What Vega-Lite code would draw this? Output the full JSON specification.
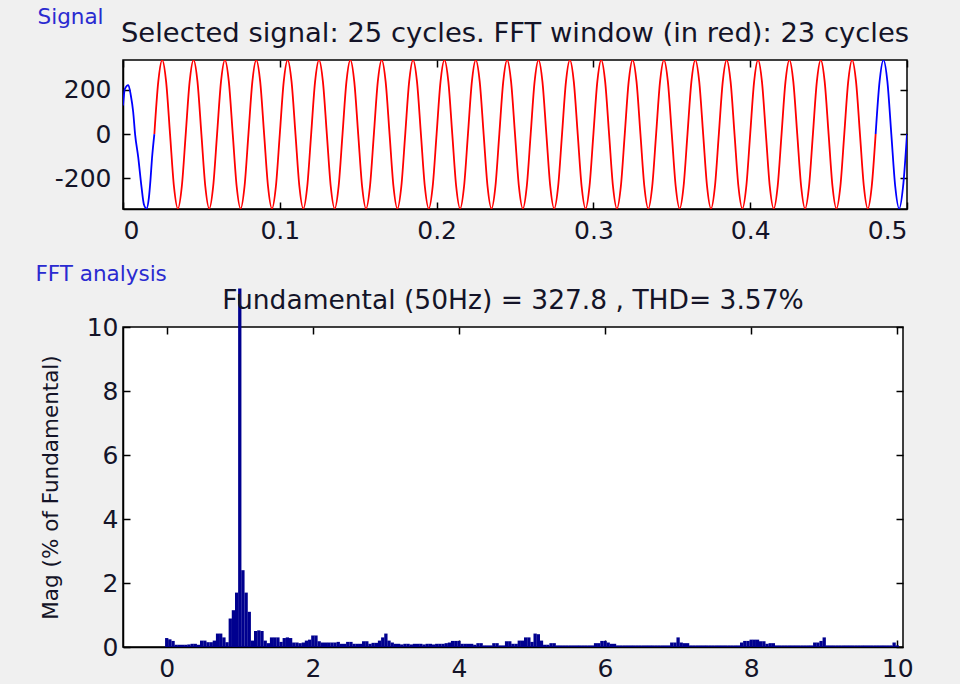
{
"$schema": "https://vega.github.io/schema/vega-lite/v6.json",
"background": "#f0f0f0",
"padding": {"top": 6, "left": 35, "right": 65, "bottom": 10},
"spacing": 19,
"config": {
  "font": "DejaVu Sans",
  "view": {"fill": "white", "stroke": "black", "strokeWidth": 1.5},
  "axis": {"domainColor": "black", "domainWidth": 1.5, "tickColor": "black", "tickWidth": 1.5, "tickSize": -7, "labelColor": "#141428", "labelFontSize": 25, "labelPadding": 10, "titleFontSize": 21.5, "titleFontWeight": "normal", "titleColor": "#141428", "grid": false},
  "title": {"fontWeight": "normal"}
},
"datasets": {
  "sig": [
    {"t":0,"v":130,"s":"a"},{"t":0.0012,"v":205,"s":"a"},{"t":0.0034,"v":222,"s":"a"},{"t":0.005,"v":175,"s":"a"},{"t":0.0065,"v":100,"s":"a"},{"t":0.0077,"v":0,"s":"a"},{"t":0.0097,"v":-105,"s":"a"},{"t":0.0118,"v":-240,"s":"a"},{"t":0.0133,"v":-318,"s":"a"},{"t":0.015,"v":-338,"s":"a"},{"t":0.0165,"v":-290,"s":"a"},{"t":0.0175,"v":-210,"s":"a"},{"t":0.0185,"v":-110,"s":"a"},{"t":0.02,"v":0,"s":"a"},
    {"t":0.02,"v":0,"s":"b"},{"t":0.0225,"v":238,"s":"b"},{"t":0.025,"v":336,"s":"b"},{"t":0.0275,"v":238,"s":"b"},{"t":0.03,"v":0,"s":"b"},{"t":0.0325,"v":-238,"s":"b"},{"t":0.035,"v":-338,"s":"b"},{"t":0.0375,"v":-238,"s":"b"},
    {"t":0.04,"v":0,"s":"b"},{"t":0.0425,"v":238,"s":"b"},{"t":0.045,"v":336,"s":"b"},{"t":0.0475,"v":238,"s":"b"},{"t":0.05,"v":0,"s":"b"},{"t":0.0525,"v":-238,"s":"b"},{"t":0.055,"v":-338,"s":"b"},{"t":0.0575,"v":-238,"s":"b"},
    {"t":0.06,"v":0,"s":"b"},{"t":0.0625,"v":238,"s":"b"},{"t":0.065,"v":336,"s":"b"},{"t":0.0675,"v":238,"s":"b"},{"t":0.07,"v":0,"s":"b"},{"t":0.0725,"v":-238,"s":"b"},{"t":0.075,"v":-338,"s":"b"},{"t":0.0775,"v":-238,"s":"b"},
    {"t":0.08,"v":0,"s":"b"},{"t":0.0825,"v":238,"s":"b"},{"t":0.085,"v":336,"s":"b"},{"t":0.0875,"v":238,"s":"b"},{"t":0.09,"v":0,"s":"b"},{"t":0.0925,"v":-238,"s":"b"},{"t":0.095,"v":-338,"s":"b"},{"t":0.0975,"v":-238,"s":"b"},
    {"t":0.1,"v":0,"s":"b"},{"t":0.1025,"v":238,"s":"b"},{"t":0.105,"v":336,"s":"b"},{"t":0.1075,"v":238,"s":"b"},{"t":0.11,"v":0,"s":"b"},{"t":0.1125,"v":-238,"s":"b"},{"t":0.115,"v":-338,"s":"b"},{"t":0.1175,"v":-238,"s":"b"},
    {"t":0.12,"v":0,"s":"b"},{"t":0.1225,"v":238,"s":"b"},{"t":0.125,"v":336,"s":"b"},{"t":0.1275,"v":238,"s":"b"},{"t":0.13,"v":0,"s":"b"},{"t":0.1325,"v":-238,"s":"b"},{"t":0.135,"v":-338,"s":"b"},{"t":0.1375,"v":-238,"s":"b"},
    {"t":0.14,"v":0,"s":"b"},{"t":0.1425,"v":238,"s":"b"},{"t":0.145,"v":336,"s":"b"},{"t":0.1475,"v":238,"s":"b"},{"t":0.15,"v":0,"s":"b"},{"t":0.1525,"v":-238,"s":"b"},{"t":0.155,"v":-338,"s":"b"},{"t":0.1575,"v":-238,"s":"b"},
    {"t":0.16,"v":0,"s":"b"},{"t":0.1625,"v":238,"s":"b"},{"t":0.165,"v":336,"s":"b"},{"t":0.1675,"v":238,"s":"b"},{"t":0.17,"v":0,"s":"b"},{"t":0.1725,"v":-238,"s":"b"},{"t":0.175,"v":-338,"s":"b"},{"t":0.1775,"v":-238,"s":"b"},
    {"t":0.18,"v":0,"s":"b"},{"t":0.1825,"v":238,"s":"b"},{"t":0.185,"v":336,"s":"b"},{"t":0.1875,"v":238,"s":"b"},{"t":0.19,"v":0,"s":"b"},{"t":0.1925,"v":-238,"s":"b"},{"t":0.195,"v":-338,"s":"b"},{"t":0.1975,"v":-238,"s":"b"},
    {"t":0.2,"v":0,"s":"b"},{"t":0.2025,"v":238,"s":"b"},{"t":0.205,"v":336,"s":"b"},{"t":0.2075,"v":238,"s":"b"},{"t":0.21,"v":0,"s":"b"},{"t":0.2125,"v":-238,"s":"b"},{"t":0.215,"v":-338,"s":"b"},{"t":0.2175,"v":-238,"s":"b"},
    {"t":0.22,"v":0,"s":"b"},{"t":0.2225,"v":238,"s":"b"},{"t":0.225,"v":336,"s":"b"},{"t":0.2275,"v":238,"s":"b"},{"t":0.23,"v":0,"s":"b"},{"t":0.2325,"v":-238,"s":"b"},{"t":0.235,"v":-338,"s":"b"},{"t":0.2375,"v":-238,"s":"b"},
    {"t":0.24,"v":0,"s":"b"},{"t":0.2425,"v":238,"s":"b"},{"t":0.245,"v":336,"s":"b"},{"t":0.2475,"v":238,"s":"b"},{"t":0.25,"v":0,"s":"b"},{"t":0.2525,"v":-238,"s":"b"},{"t":0.255,"v":-338,"s":"b"},{"t":0.2575,"v":-238,"s":"b"},
    {"t":0.26,"v":0,"s":"b"},{"t":0.2625,"v":238,"s":"b"},{"t":0.265,"v":336,"s":"b"},{"t":0.2675,"v":238,"s":"b"},{"t":0.27,"v":0,"s":"b"},{"t":0.2725,"v":-238,"s":"b"},{"t":0.275,"v":-338,"s":"b"},{"t":0.2775,"v":-238,"s":"b"},
    {"t":0.28,"v":0,"s":"b"},{"t":0.2825,"v":238,"s":"b"},{"t":0.285,"v":336,"s":"b"},{"t":0.2875,"v":238,"s":"b"},{"t":0.29,"v":0,"s":"b"},{"t":0.2925,"v":-238,"s":"b"},{"t":0.295,"v":-338,"s":"b"},{"t":0.2975,"v":-238,"s":"b"},
    {"t":0.3,"v":0,"s":"b"},{"t":0.3025,"v":238,"s":"b"},{"t":0.305,"v":336,"s":"b"},{"t":0.3075,"v":238,"s":"b"},{"t":0.31,"v":0,"s":"b"},{"t":0.3125,"v":-238,"s":"b"},{"t":0.315,"v":-338,"s":"b"},{"t":0.3175,"v":-238,"s":"b"},
    {"t":0.32,"v":0,"s":"b"},{"t":0.3225,"v":238,"s":"b"},{"t":0.325,"v":336,"s":"b"},{"t":0.3275,"v":238,"s":"b"},{"t":0.33,"v":0,"s":"b"},{"t":0.3325,"v":-238,"s":"b"},{"t":0.335,"v":-338,"s":"b"},{"t":0.3375,"v":-238,"s":"b"},
    {"t":0.34,"v":0,"s":"b"},{"t":0.3425,"v":238,"s":"b"},{"t":0.345,"v":336,"s":"b"},{"t":0.3475,"v":238,"s":"b"},{"t":0.35,"v":0,"s":"b"},{"t":0.3525,"v":-238,"s":"b"},{"t":0.355,"v":-338,"s":"b"},{"t":0.3575,"v":-238,"s":"b"},
    {"t":0.36,"v":0,"s":"b"},{"t":0.3625,"v":238,"s":"b"},{"t":0.365,"v":336,"s":"b"},{"t":0.3675,"v":238,"s":"b"},{"t":0.37,"v":0,"s":"b"},{"t":0.3725,"v":-238,"s":"b"},{"t":0.375,"v":-338,"s":"b"},{"t":0.3775,"v":-238,"s":"b"},
    {"t":0.38,"v":0,"s":"b"},{"t":0.3825,"v":238,"s":"b"},{"t":0.385,"v":336,"s":"b"},{"t":0.3875,"v":238,"s":"b"},{"t":0.39,"v":0,"s":"b"},{"t":0.3925,"v":-238,"s":"b"},{"t":0.395,"v":-338,"s":"b"},{"t":0.3975,"v":-238,"s":"b"},
    {"t":0.4,"v":0,"s":"b"},{"t":0.4025,"v":238,"s":"b"},{"t":0.405,"v":336,"s":"b"},{"t":0.4075,"v":238,"s":"b"},{"t":0.41,"v":0,"s":"b"},{"t":0.4125,"v":-238,"s":"b"},{"t":0.415,"v":-338,"s":"b"},{"t":0.4175,"v":-238,"s":"b"},
    {"t":0.42,"v":0,"s":"b"},{"t":0.4225,"v":238,"s":"b"},{"t":0.425,"v":336,"s":"b"},{"t":0.4275,"v":238,"s":"b"},{"t":0.43,"v":0,"s":"b"},{"t":0.4325,"v":-238,"s":"b"},{"t":0.435,"v":-338,"s":"b"},{"t":0.4375,"v":-238,"s":"b"},
    {"t":0.44,"v":0,"s":"b"},{"t":0.4425,"v":238,"s":"b"},{"t":0.445,"v":336,"s":"b"},{"t":0.4475,"v":238,"s":"b"},{"t":0.45,"v":0,"s":"b"},{"t":0.4525,"v":-238,"s":"b"},{"t":0.455,"v":-338,"s":"b"},{"t":0.4575,"v":-238,"s":"b"},
    {"t":0.46,"v":0,"s":"b"},{"t":0.4625,"v":238,"s":"b"},{"t":0.465,"v":336,"s":"b"},{"t":0.4675,"v":238,"s":"b"},{"t":0.47,"v":0,"s":"b"},{"t":0.4725,"v":-238,"s":"b"},{"t":0.475,"v":-338,"s":"b"},{"t":0.4775,"v":-238,"s":"b"},
    {"t":0.48,"v":0,"s":"b"},
    {"t":0.48,"v":0,"s":"c"},{"t":0.4825,"v":238,"s":"c"},{"t":0.485,"v":336,"s":"c"},{"t":0.4875,"v":238,"s":"c"},{"t":0.49,"v":0,"s":"c"},{"t":0.4925,"v":-238,"s":"c"},{"t":0.495,"v":-338,"s":"c"},{"t":0.4975,"v":-238,"s":"c"},{"t":0.5,"v":0,"s":"c"}
  ],
  "fft": [
    {"h":0,"m":0.28},{"h":0.043,"m":0.24},{"h":0.087,"m":0.19},{"h":0.13,"m":0.07},{"h":0.174,"m":0.07},{"h":0.217,"m":0.07},{"h":0.261,"m":0.07},{"h":0.304,"m":0.08},{"h":0.348,"m":0.1},{"h":0.391,"m":0.1},{"h":0.435,"m":0.07},{"h":0.478,"m":0.2},{"h":0.522,"m":0.2},{"h":0.565,"m":0.15},{"h":0.609,"m":0.15},{"h":0.652,"m":0.2},{"h":0.696,"m":0.42},{"h":0.739,"m":0.42},{"h":0.783,"m":0.3},{"h":0.826,"m":0.15},{"h":0.87,"m":0.89},{"h":0.913,"m":1.15},{"h":0.957,"m":1.7},
    {"h":1,"m":11.2},{"h":1.043,"m":2.4},{"h":1.087,"m":1.7},{"h":1.13,"m":1.1},{"h":1.174,"m":0.2},{"h":1.217,"m":0.5},{"h":1.261,"m":0.52},{"h":1.304,"m":0.5},{"h":1.348,"m":0.2},{"h":1.391,"m":0.12},{"h":1.435,"m":0.3},{"h":1.478,"m":0.3},{"h":1.522,"m":0.3},{"h":1.565,"m":0.16},{"h":1.609,"m":0.28},{"h":1.652,"m":0.3},{"h":1.696,"m":0.28},{"h":1.739,"m":0.14},{"h":1.783,"m":0.14},{"h":1.826,"m":0.12},{"h":1.87,"m":0.14},{"h":1.913,"m":0.2},{"h":1.957,"m":0.23},
    {"h":2,"m":0.36},{"h":2.043,"m":0.36},{"h":2.087,"m":0.18},{"h":2.13,"m":0.14},{"h":2.174,"m":0.14},{"h":2.217,"m":0.14},{"h":2.261,"m":0.14},{"h":2.304,"m":0.14},{"h":2.348,"m":0.16},{"h":2.391,"m":0.1},{"h":2.435,"m":0.1},{"h":2.478,"m":0.16},{"h":2.522,"m":0.16},{"h":2.565,"m":0.1},{"h":2.609,"m":0.1},{"h":2.652,"m":0.1},{"h":2.696,"m":0.18},{"h":2.739,"m":0.18},{"h":2.783,"m":0.1},{"h":2.826,"m":0.13},{"h":2.87,"m":0.13},{"h":2.913,"m":0.2},{"h":2.957,"m":0.3},
    {"h":3,"m":0.42},{"h":3.043,"m":0.2},{"h":3.087,"m":0.14},{"h":3.13,"m":0.1},{"h":3.174,"m":0.1},{"h":3.217,"m":0.08},{"h":3.261,"m":0.1},{"h":3.304,"m":0.1},{"h":3.348,"m":0.08},{"h":3.391,"m":0.1},{"h":3.435,"m":0.1},{"h":3.478,"m":0.1},{"h":3.522,"m":0.08},{"h":3.565,"m":0.1},{"h":3.609,"m":0.1},{"h":3.652,"m":0.08},{"h":3.696,"m":0.1},{"h":3.739,"m":0.1},{"h":3.783,"m":0.1},{"h":3.826,"m":0.12},{"h":3.87,"m":0.14},{"h":3.913,"m":0.19},{"h":3.957,"m":0.19},
    {"h":4,"m":0.19},{"h":4.043,"m":0.1},{"h":4.087,"m":0.1},{"h":4.13,"m":0.1},{"h":4.174,"m":0.1},{"h":4.217,"m":0.07},{"h":4.261,"m":0.12},{"h":4.304,"m":0.12},{"h":4.348,"m":0.05},{"h":4.391,"m":0.05},{"h":4.435,"m":0.05},{"h":4.478,"m":0.12},{"h":4.522,"m":0.12},{"h":4.565,"m":0.05},{"h":4.609,"m":0.05},{"h":4.652,"m":0.18},{"h":4.696,"m":0.18},{"h":4.739,"m":0.1},{"h":4.783,"m":0.1},{"h":4.826,"m":0.2},{"h":4.87,"m":0.2},{"h":4.913,"m":0.3},{"h":4.957,"m":0.3},
    {"h":5,"m":0.16},{"h":5.043,"m":0.42},{"h":5.087,"m":0.4},{"h":5.13,"m":0.2},{"h":5.174,"m":0.07},{"h":5.217,"m":0.07},{"h":5.261,"m":0.12},{"h":5.304,"m":0.12},{"h":5.348,"m":0.05},{"h":5.391,"m":0.05},{"h":5.435,"m":0.05},{"h":5.478,"m":0.05},{"h":5.522,"m":0.05},{"h":5.565,"m":0.05},{"h":5.609,"m":0.05},{"h":5.652,"m":0.05},{"h":5.696,"m":0.05},{"h":5.739,"m":0.05},{"h":5.783,"m":0.05},{"h":5.826,"m":0.05},{"h":5.87,"m":0.12},{"h":5.913,"m":0.12},{"h":5.957,"m":0.19},
    {"h":6,"m":0.19},{"h":6.043,"m":0.14},{"h":6.087,"m":0.1},{"h":6.13,"m":0.1},{"h":6.174,"m":0.05},{"h":6.217,"m":0.05},{"h":6.261,"m":0.05},{"h":6.304,"m":0.05},{"h":6.348,"m":0.05},{"h":6.391,"m":0.05},{"h":6.435,"m":0.05},{"h":6.478,"m":0.05},{"h":6.522,"m":0.05},{"h":6.565,"m":0.05},{"h":6.609,"m":0.05},{"h":6.652,"m":0.05},{"h":6.696,"m":0.05},{"h":6.739,"m":0.05},{"h":6.783,"m":0.05},{"h":6.826,"m":0.05},{"h":6.87,"m":0.05},{"h":6.913,"m":0.14},{"h":6.957,"m":0.14},
    {"h":7,"m":0.3},{"h":7.043,"m":0.14},{"h":7.087,"m":0.12},{"h":7.13,"m":0.12},{"h":7.174,"m":0.05},{"h":7.217,"m":0.05},{"h":7.261,"m":0.05},{"h":7.304,"m":0.05},{"h":7.348,"m":0.05},{"h":7.391,"m":0.05},{"h":7.435,"m":0.05},{"h":7.478,"m":0.05},{"h":7.522,"m":0.05},{"h":7.565,"m":0.05},{"h":7.609,"m":0.05},{"h":7.652,"m":0.05},{"h":7.696,"m":0.05},{"h":7.739,"m":0.05},{"h":7.783,"m":0.05},{"h":7.826,"m":0.05},{"h":7.87,"m":0.14},{"h":7.913,"m":0.19},{"h":7.957,"m":0.19},
    {"h":8,"m":0.23},{"h":8.043,"m":0.23},{"h":8.087,"m":0.23},{"h":8.13,"m":0.18},{"h":8.174,"m":0.18},{"h":8.217,"m":0.1},{"h":8.261,"m":0.12},{"h":8.304,"m":0.12},{"h":8.348,"m":0.05},{"h":8.391,"m":0.05},{"h":8.435,"m":0.05},{"h":8.478,"m":0.05},{"h":8.522,"m":0.05},{"h":8.565,"m":0.05},{"h":8.609,"m":0.05},{"h":8.652,"m":0.05},{"h":8.696,"m":0.05},{"h":8.739,"m":0.05},{"h":8.783,"m":0.05},{"h":8.826,"m":0.05},{"h":8.87,"m":0.14},{"h":8.913,"m":0.14},{"h":8.957,"m":0.19},
    {"h":9,"m":0.3},{"h":9.043,"m":0.05},{"h":9.087,"m":0.05},{"h":9.13,"m":0.05},{"h":9.174,"m":0.05},{"h":9.217,"m":0.05},{"h":9.261,"m":0.05},{"h":9.304,"m":0.05},{"h":9.348,"m":0.05},{"h":9.391,"m":0.05},{"h":9.435,"m":0.05},{"h":9.478,"m":0.05},{"h":9.522,"m":0.05},{"h":9.565,"m":0.05},{"h":9.609,"m":0.05},{"h":9.652,"m":0.05},{"h":9.696,"m":0.05},{"h":9.739,"m":0.05},{"h":9.783,"m":0.05},{"h":9.826,"m":0.05},{"h":9.87,"m":0.05},{"h":9.913,"m":0.05},{"h":9.957,"m":0.14},
    {"h":10,"m":0.05}
  ]
},
"vconcat": [
  {
    "title": {"text": "Signal", "anchor": "start", "frame": "bounds", "fontSize": 21.5, "color": "#2a2ad0", "offset": -9, "dx": -16},
    "vconcat": [
      {
        "width": 784, "height": 149,
        "title": {"text": "Selected signal: 25 cycles. FFT window (in red): 23 cycles", "fontSize": 27.4, "color": "#141428", "offset": 12},
        "data": {"name": "sig"},
        "layer": [
          {
            "mark": {"type": "line", "interpolate": "monotone", "strokeWidth": 1.8, "clip": true},
            "encoding": {
              "x": {"field": "t", "type": "quantitative", "scale": {"domain": [0, 0.5], "nice": false, "zero": false}, "axis": {"values": [0, 0.1, 0.2, 0.3, 0.4, 0.5], "format": ".1~f", "title": null, "labelPadding": 16}},
              "y": {"field": "v", "type": "quantitative", "scale": {"domain": [-340, 336], "nice": false, "zero": false}, "axis": {"values": [-200, 0, 200], "labelExpr": "'' + datum.value", "title": null, "labelPadding": 19}},
              "color": {"field": "s", "type": "nominal", "scale": {"domain": ["a", "b", "c"], "range": ["#0000ff", "#ff0000", "#0000ff"]}, "legend": null},
              "detail": {"field": "s"}
            }
          },
          {
            "mark": {"type": "line", "opacity": 0},
            "encoding": {
              "x": {"field": "t", "type": "quantitative", "axis": {"orient": "top", "values": [0, 0.1, 0.2, 0.3, 0.4, 0.5], "labels": false, "domain": false, "title": null}},
              "y": {"field": "v", "type": "quantitative", "axis": {"orient": "right", "values": [-200, 0, 200], "labels": false, "domain": false, "title": null}}
            }
          }
        ],
        "resolve": {"axis": {"x": "independent", "y": "independent"}}
      }
    ]
  },
  {
    "title": {"text": "FFT analysis", "anchor": "start", "frame": "bounds", "fontSize": 21.5, "color": "#2a2ad0", "offset": 2, "dx": -4},
    "vconcat": [
      {
        "width": 780, "height": 320,
        "title": {"text": "Fundamental (50Hz) = 327.8 , THD= 3.57%", "fontSize": 26.5, "color": "#141428", "offset": -26},
        "data": {"name": "fft"},
        "layer": [
          {
            "mark": {"type": "bar", "size": 3.3, "color": "#00008f", "clip": false},
            "encoding": {
              "x": {"field": "h", "type": "quantitative", "scale": {"domain": [-0.53, 10.01], "nice": false, "zero": false}, "axis": {"values": [0, 2, 4, 6, 8, 10], "title": null, "labelPadding": 16}},
              "y": {"field": "m", "type": "quantitative", "scale": {"domain": [0, 10], "nice": false}, "axis": {"values": [0, 2, 4, 6, 8, 10], "title": "Mag (% of Fundamental)", "titlePadding": 24, "labelPadding": 12}}
            }
          },
          {
            "mark": {"type": "bar", "opacity": 0},
            "encoding": {
              "x": {"field": "h", "type": "quantitative", "axis": {"orient": "top", "values": [0, 2, 4, 6, 8, 10], "labels": false, "domain": false, "title": null}},
              "y": {"field": "m", "type": "quantitative", "axis": {"orient": "right", "values": [0, 2, 4, 6, 8, 10], "labels": false, "domain": false, "title": null}}
            }
          }
        ],
        "resolve": {"axis": {"x": "independent", "y": "independent"}}
      }
    ]
  }
]
}
